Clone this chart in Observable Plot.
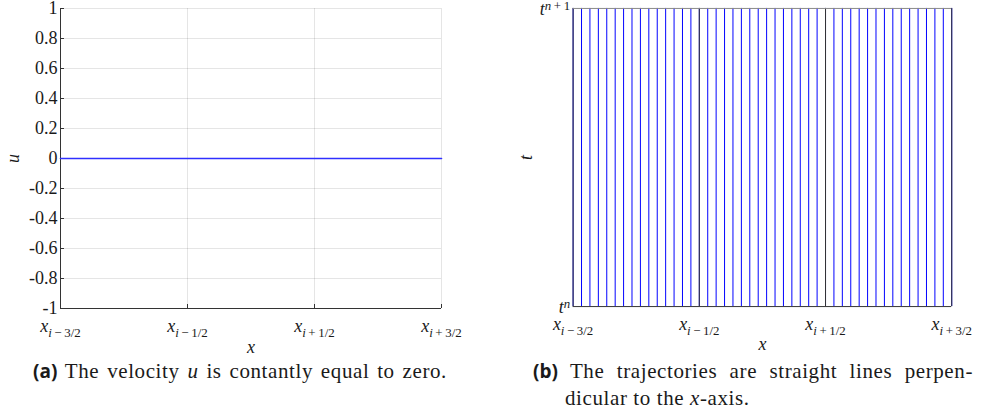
<!DOCTYPE html>
<html>
<head>
<meta charset="utf-8">
<script src="https://cdn.jsdelivr.net/npm/d3@7"></script>
<script src="https://cdn.jsdelivr.net/npm/@observablehq/plot@0.6"></script>
<style>
  html, body { margin: 0; padding: 0; background: #fff; }
  body { position: relative; width: 987px; height: 414px; overflow: hidden;
         font-family: "Liberation Serif", serif; color: #1a1a1a; }
  .panel { position: absolute; top: 0; }
  .panel svg { font-family: "Liberation Serif", serif !important; font-size: 18px !important; color: #1a1a1a; overflow: visible; }
  .panel svg text { font-family: "Liberation Serif", serif; font-size: 18px; }
  #velocity { left: 0; }
  #trajectories { left: 510px; }
  .cap { position: absolute; top: 358px; font-size: 21px; line-height: 27px; letter-spacing: 0.6px; word-spacing: 2px; }
  .cap b { font-family: "Open Sans", sans-serif; font-weight: 700; font-size: 19px; letter-spacing: 0; }
  #cap-a { left: 0; width: 480px; text-align: center; }
  #cap-b { left: 533px; width: 440px; word-spacing: 0; }
  #cap-b .first { display: block; text-align: justify; text-align-last: justify; }
  #cap-b .rest { display: block; padding-left: 32px; }
</style>
</head>
<body>
<div id="velocity" class="panel"></div>
<div id="trajectories" class="panel"></div>
<div id="cap-a" class="cap"><b>(a)</b> The velocity <i>u</i> is contantly equal to zero.</div>
<div id="cap-b" class="cap"><span class="first"><b>(b)</b> The trajectories are straight lines perpen-</span><span class="rest">dicular to the <i>x</i>-axis.</span></div>
<script>
// Cell interfaces x_{i-3/2} … x_{i+3/2}, in cell units
const cellTicks = [0, 1, 2, 3];
const cellTickLabels = ["x_{i−3/2}", "x_{i−1/2}", "x_{i+1/2}", "x_{i+3/2}"];

// Velocity panel
const velocityTicks = [-1, -0.8, -0.6, -0.4, -0.2, 0, 0.2, 0.4, 0.6, 0.8, 1];
const velocityX = [0, 3];
const velocityU = [0, 0];

// Trajectory panel: feet of the characteristics, in sub-cells (15 per cell)
const subcellsPerCell = 15;
const trajectoryFeet = [0, 1, 2, 3, 4, 5, 6, 7, 8, 9, 10, 11, 12, 13, 14, 15,
  16, 17, 18, 19, 20, 21, 22, 23, 24, 25, 26, 27, 28, 29, 30,
  31, 32, 33, 34, 35, 36, 37, 38, 39, 40, 41, 42, 43, 44, 45];
const timeTicks = [0, 1];
const timeTickLabels = ["t^n", "t^{n+1}"];

const axisColor = "#333";
const baseStyle = {fontFamily: "Liberation Serif, serif", fontSize: "18px", color: "#1a1a1a", background: "transparent", overflow: "visible"};

// Turn "x_{i−1/2}" / "t^{n+1}" tick strings into italic base + scripts,
// and single-letter axis labels into italic variables.
function typeset(svg) {
  d3.select(svg).selectAll("text").each(function () {
    if (this.querySelector("tspan")) return;
    const s = this.textContent;
    const m = /^([A-Za-z])([_^])\{?([^}]*)\}?$/.exec(s);
    if (m) {
      this.textContent = "";
      const t = d3.select(this);
      t.append("tspan").attr("font-style", "italic").text(m[1]);
      const script = t.append("tspan")
        .attr("font-size", "0.72em")
        .attr("dy", m[2] === "_" ? "0.36em" : "-0.38em");
      for (const run of m[3].match(/[A-Za-z]+|[^A-Za-z]+/g)) {
        const isVar = /[A-Za-z]/.test(run);
        const txt = isVar ? run : run.replace(/([−+])/g, "\u2009$1\u2009");
        script.append("tspan").attr("font-style", isVar ? "italic" : "normal").text(txt);
      }
    } else if (/^[A-Za-z]$/.test(s)) {
      this.setAttribute("font-style", "italic");
    }
  });
  return svg;
}

const velocityPlot = Plot.plot({
  width: 480, height: 345,
  marginLeft: 60, marginRight: 39, marginTop: 8, marginBottom: 37,
  style: baseStyle,
  x: {domain: [0, 3]},
  y: {domain: [-1, 1]},
  marks: [
    Plot.gridX(cellTicks, {stroke: "#000", strokeOpacity: 0.1}),
    Plot.gridY(velocityTicks, {stroke: "#000", strokeOpacity: 0.1}),
    Plot.ruleX([0], {stroke: axisColor}),
    Plot.ruleY([-1], {stroke: axisColor}),
    Plot.axisX(cellTicks, {
      tickSize: -4, tickPadding: 15, stroke: axisColor,
      tickFormat: d => cellTickLabels[cellTicks.indexOf(d)],
      label: "x", labelAnchor: "center", labelArrow: "none", labelOffset: 44
    }),
    Plot.axisY(velocityTicks, {
      tickSize: -4, tickPadding: 7, stroke: axisColor,
      tickFormat: d => String(d),
      label: "u", labelAnchor: "center", labelArrow: "none", labelOffset: 54
    }),
    Plot.line(velocityX.map((x, i) => ({x, u: velocityU[i]})), {x: "x", y: "u", stroke: "#3030ff", strokeWidth: 1.6})
  ]
});
document.getElementById("velocity").append(typeset(velocityPlot));

const trajectoryPlot = Plot.plot({
  width: 480, height: 345,
  marginLeft: 63, marginRight: 36, marginTop: 8, marginBottom: 37,
  style: baseStyle,
  x: {domain: [0, 3]},
  y: {domain: [0, 1]},
  marks: [
    Plot.ruleX(trajectoryFeet, {x: d => d / subcellsPerCell, stroke: "#0000ff", strokeWidth: 1}),
    Plot.ruleX(cellTicks, {stroke: axisColor}),
    Plot.ruleY([0], {stroke: axisColor}),
    Plot.ruleY([1], {stroke: "#888"}),
    Plot.axisX(cellTicks, {
      tickSize: 0, tickPadding: 11,
      tickFormat: d => cellTickLabels[cellTicks.indexOf(d)],
      label: "x", labelAnchor: "center", labelArrow: "none", labelOffset: 44
    }),
    Plot.axisY(timeTicks, {
      tickSize: 0, tickPadding: 3, dy: 1,
      tickFormat: d => timeTickLabels[timeTicks.indexOf(d)],
      label: "t", labelAnchor: "center", labelArrow: "none", labelOffset: 54
    })
  ]
});
document.getElementById("trajectories").append(typeset(trajectoryPlot));
</script>
</body>
</html>
